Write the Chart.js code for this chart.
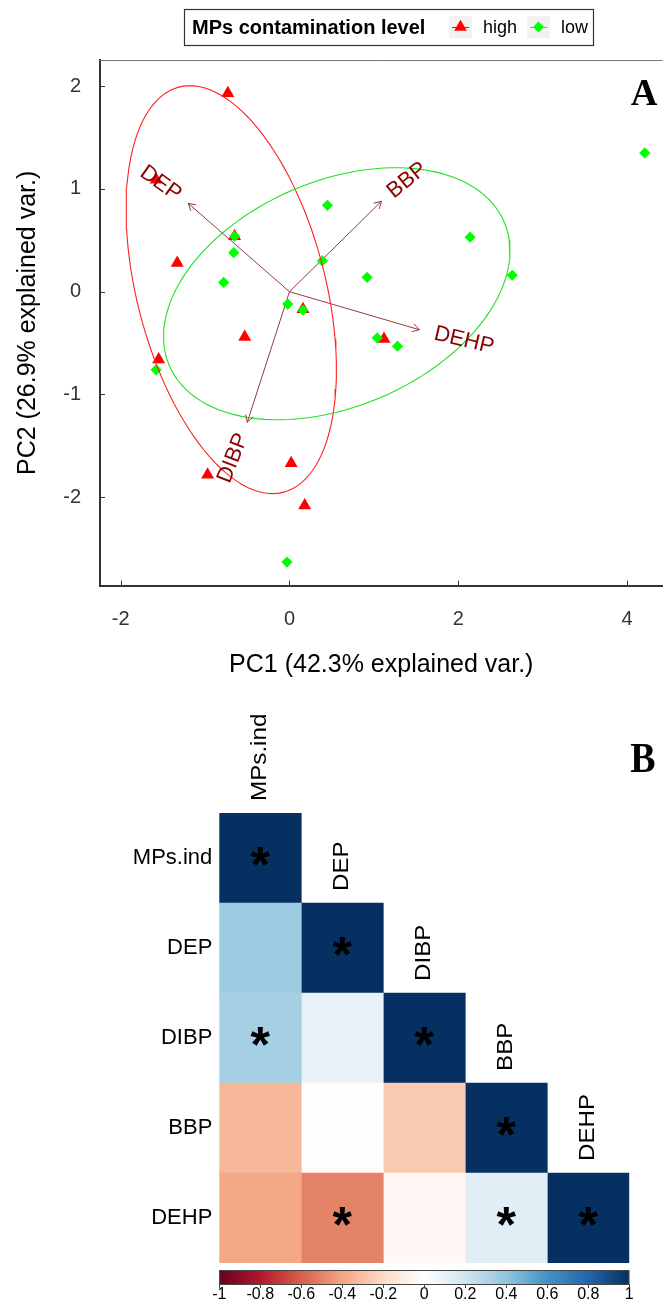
<!DOCTYPE html>
<html>
<head>
<meta charset="utf-8">
<script src="https://cdn.jsdelivr.net/npm/chart.js@4.4.1/dist/chart.umd.min.js"></script>
<style>
  html, body { margin: 0; padding: 0; background: #fff; }
  #wrap { position: relative; width: 670px; height: 1307px; }
  #pcaChart { position: absolute; left: 0; top: 0; }
  #corrChart { position: absolute; left: 0; top: 700px; }
</style>
</head>
<body>
<div id="wrap">
  <canvas id="pcaChart" width="670" height="700"></canvas>
  <canvas id="corrChart" width="670" height="607"></canvas>
</div>
<script>
// ---- panel A: PCA scores ----
const highX = [-0.73, -1.58, -0.65, -1.33, 0.16, -0.53, -1.55, 1.12, 0.02, -0.97, 0.18];
const highY = [1.93, 1.09, 0.54, 0.28, -0.17, -0.44, -0.66, -0.46, -1.67, -1.78, -2.08];
const lowX = [-0.65, -0.66, -0.78, 0.45, 0.39, 0.92, -0.02, 0.16, 4.21, 2.14, 2.64, -1.58, 1.04, 1.28, -0.03];
const lowY = [0.54, 0.38, 0.09, 0.84, 0.30, 0.14, -0.12, -0.18, 1.35, 0.53, 0.16, -0.76, -0.45, -0.53, -2.63];

// variable loadings (arrow tips)
const varNames = ['DEP', 'BBP', 'DEHP', 'DIBP'];
const loadX = [-1.20, 1.09, 1.54, -0.50];
const loadY = [0.86, 0.88, -0.37, -1.27];

// group ellipses: centre x, centre y, then two conjugate semi-axes (ux, uy, vx, vy)
const highEllipse = [-0.69, 0.02, 0.622, -1.970, -1.080, -0.236];
const lowEllipse = [0.56, -0.02, 1.989, 0.689, 0.507, -1.014];

const xTicks = [-2, 0, 2, 4];
const yTicks = [-2, -1, 0, 1, 2];

// ---- panel B: correlation matrix (lower triangle) ----
const corrVars = ['MPs.ind', 'DEP', 'DIBP', 'BBP', 'DEHP'];
const rowMPs = [1];
const rowDEP = [0.37, 1];
const rowDIBP = [0.34, 0.10, 1];
const rowBBP = [-0.33, -0.01, -0.26, 1];
const rowDEHP = [-0.39, -0.50, -0.04, 0.13, 1];
const corrRows = [rowMPs, rowDEP, rowDIBP, rowBBP, rowDEHP];
const starRows = [[1], [0, 1], [1, 0, 1], [0, 0, 0, 1], [0, 1, 0, 1, 1]];
const cbTicks = [-1, -0.8, -0.6, -0.4, -0.2, 0, 0.2, 0.4, 0.6, 0.8, 1];

const rdbu = ['#67001F', '#B2182B', '#D6604D', '#F4A582', '#FDDBC7', '#FFFFFF',
              '#D1E5F0', '#92C5DE', '#4393C3', '#2166AC', '#053061'];

const SANS = '"Liberation Sans", Arial, sans-serif';
const SERIF = '"Liberation Serif", "Times New Roman", serif';
const arrowColor = 'rgb(145,60,60)';

function toPts(xs, ys) {
    return xs.map((x, i) => ({ x: x, y: ys[i] }));
}

function ellipsePts(e) {
    const pts = [];
    for (let k = 0; k <= 120; k++) {
        const t = k / 120 * Math.PI * 2;
        pts.push({ x: e[0] + e[2] * Math.cos(t) + e[4] * Math.sin(t),
                   y: e[1] + e[3] * Math.cos(t) + e[5] * Math.sin(t) });
    }
    return pts;
}

function hexRgb(h) {
    return [parseInt(h.slice(1, 3), 16), parseInt(h.slice(3, 5), 16), parseInt(h.slice(5, 7), 16)];
}

function corrColor(v) {
    const pos = (v + 1) / 2 * (rdbu.length - 1);
    const i = Math.min(Math.floor(pos), rdbu.length - 2);
    const f = pos - i;
    const a = hexRgb(rdbu[i]), b = hexRgb(rdbu[i + 1]);
    const c = a.map((q, k) => Math.round(q + (b[k] - q) * f));
    return 'rgb(' + c.join(',') + ')';
}

function drawMarker(ctx, style, x, y, r, color) {
    ctx.fillStyle = color;
    ctx.beginPath();
    if (style === 'triangle') {
        ctx.moveTo(x, y - r);
        ctx.lineTo(x + 0.866 * r, y + r / 2);
        ctx.lineTo(x - 0.866 * r, y + r / 2);
    } else {
        ctx.moveTo(x, y - r);
        ctx.lineTo(x + r, y);
        ctx.lineTo(x, y + r);
        ctx.lineTo(x - r, y);
    }
    ctx.closePath();
    ctx.fill();
}

const pcaDecor = {
    id: 'pcaDecor',
    afterDatasetsDraw(chart) {
        const ctx = chart.ctx;
        const xs = chart.scales.x, ys = chart.scales.y;
        const ox = xs.getPixelForValue(0), oy = ys.getPixelForValue(0);
        ctx.save();
        // arrow heads
        ctx.strokeStyle = arrowColor;
        ctx.lineWidth = 1;
        varNames.forEach((n, i) => {
            const px = xs.getPixelForValue(loadX[i]), py = ys.getPixelForValue(loadY[i]);
            const a = Math.atan2(py - oy, px - ox);
            ctx.beginPath();
            ctx.moveTo(px - 8 * Math.cos(a - Math.PI / 6), py - 8 * Math.sin(a - Math.PI / 6));
            ctx.lineTo(px, py);
            ctx.lineTo(px - 8 * Math.cos(a + Math.PI / 6), py - 8 * Math.sin(a + Math.PI / 6));
            ctx.stroke();
        });
        // variable names, placed like ggbiplot does
        ctx.font = '22px ' + SANS;
        ctx.fillStyle = '#8B0000';
        ctx.textAlign = 'left';
        ctx.textBaseline = 'middle';
        varNames.forEach((n, i) => {
            const px = xs.getPixelForValue(loadX[i]), py = ys.getPixelForValue(loadY[i]);
            const ang = Math.atan(loadY[i] / loadX[i]);
            const hj = (1 - 1.5 * Math.sign(loadX[i])) / 2;
            const w = ctx.measureText(n).width;
            ctx.save();
            ctx.translate(px, py);
            ctx.rotate(-ang);
            ctx.fillText(n, -hj * w, 0);
            ctx.restore();
        });
        ctx.restore();
    },
    afterDraw(chart) {
        const ctx = chart.ctx;
        const area = chart.chartArea;
        const xs = chart.scales.x, ys = chart.scales.y;
        ctx.save();
        // top frame line
        ctx.strokeStyle = '#777';
        ctx.lineWidth = 1;
        ctx.beginPath();
        ctx.moveTo(area.left, area.top + 0.5);
        ctx.lineTo(area.right, area.top + 0.5);
        ctx.stroke();
        // inward ticks
        ctx.strokeStyle = '#333';
        xTicks.forEach(v => {
            const x = Math.round(xs.getPixelForValue(v)) + 0.5;
            ctx.beginPath(); ctx.moveTo(x, area.bottom); ctx.lineTo(x, area.bottom - 5); ctx.stroke();
        });
        yTicks.forEach(v => {
            const y = Math.round(ys.getPixelForValue(v)) + 0.5;
            ctx.beginPath(); ctx.moveTo(area.left, y); ctx.lineTo(area.left + 5, y); ctx.stroke();
        });
        // legend
        ctx.strokeStyle = '#333';
        ctx.lineWidth = 1.2;
        ctx.strokeRect(184.5, 9.5, 409, 36);
        ctx.fillStyle = '#000';
        ctx.textBaseline = 'middle';
        ctx.textAlign = 'left';
        ctx.font = 'bold 20px ' + SANS;
        ctx.fillText('MPs contamination level', 192, 28);
        const keys = [
            { x: 449, label: 'high', style: 'triangle', color: '#FF0000', r: 7.3 },
            { x: 527, label: 'low', style: 'rectRot', color: '#00FF00', r: 5.5 }
        ];
        keys.forEach(k => {
            ctx.fillStyle = '#F2F2F2';
            ctx.fillRect(k.x, 16, 23, 22);
            ctx.strokeStyle = k.color;
            ctx.lineWidth = 1;
            ctx.beginPath(); ctx.moveTo(k.x + 3, 27.5); ctx.lineTo(k.x + 20, 27.5); ctx.stroke();
            drawMarker(ctx, k.style, k.x + 11.5, 27, k.r, k.color);
            ctx.fillStyle = '#000';
            ctx.font = '18px ' + SANS;
            ctx.fillText(k.label, k.x + 34, 28);
        });
        // panel letter
        ctx.font = 'bold 37px ' + SERIF;
        ctx.textAlign = 'center';
        ctx.textBaseline = 'alphabetic';
        ctx.fillText('A', 644, 105);
        ctx.restore();
    }
};

function drawPca() {
    const ctx = document.getElementById('pcaChart').getContext('2d');
    const arrowSets = varNames.map((n, i) => ({
        label: n,
        data: [{ x: 0, y: 0 }, { x: loadX[i], y: loadY[i] }],
        showLine: true,
        borderColor: arrowColor,
        borderWidth: 1,
        pointRadius: 0,
        order: 10
    }));

    new Chart(ctx, {
        type: 'scatter',
        data: {
            datasets: arrowSets.concat([
                {
                    label: 'high',
                    data: toPts(highX, highY),
                    pointStyle: 'triangle',
                    pointRadius: 7.5,
                    backgroundColor: '#FF0000',
                    borderWidth: 0,
                    order: 5
                },
                {
                    label: 'low',
                    data: toPts(lowX, lowY),
                    pointStyle: 'rectRot',
                    pointRadius: 5.6,
                    backgroundColor: '#00FF00',
                    borderWidth: 0,
                    order: 4
                },
                {
                    label: 'high ellipse',
                    data: ellipsePts(highEllipse),
                    showLine: true,
                    borderColor: '#FF2020',
                    borderWidth: 1.1,
                    pointRadius: 0,
                    order: 2
                },
                {
                    label: 'low ellipse',
                    data: ellipsePts(lowEllipse),
                    showLine: true,
                    borderColor: '#20E020',
                    borderWidth: 1.1,
                    pointRadius: 0,
                    order: 1
                }
            ])
        },
        options: {
            responsive: false,
            animation: false,
            events: [],
            layout: { padding: { top: 60, right: 0, left: 0, bottom: 0 } },
            plugins: {
                legend: { display: false },
                tooltip: { enabled: false }
            },
            scales: {
                x: {
                    type: 'linear',
                    min: -2.245,
                    max: 4.42,
                    afterBuildTicks: s => { s.ticks = xTicks.map(v => ({ value: v })); },
                    afterFit: s => { s.height = 114.3; },
                    grid: { display: false, drawTicks: false },
                    border: { display: true, color: '#333', width: 2 },
                    ticks: { font: { family: SANS, size: 20 }, color: '#333', padding: 22 },
                    title: {
                        display: true,
                        text: 'PC1 (42.3% explained var.)',
                        font: { family: SANS, size: 25 },
                        color: '#000',
                        padding: { top: 0, bottom: 20 }
                    }
                },
                y: {
                    type: 'linear',
                    min: -2.86,
                    max: 2.254,
                    afterBuildTicks: s => { s.ticks = yTicks.map(v => ({ value: v })); },
                    afterFit: s => { s.width = 100; },
                    grid: { display: false, drawTicks: false },
                    border: { display: true, color: '#333', width: 2 },
                    ticks: { font: { family: SANS, size: 20 }, color: '#333', padding: 19 },
                    title: {
                        display: true,
                        text: 'PC2 (26.9% explained var.)',
                        font: { family: SANS, size: 25 },
                        color: '#000',
                        padding: { top: 13, bottom: 0 }
                    }
                }
            }
        },
        plugins: [pcaDecor]
    });
}

const corrDecor = {
    id: 'corrDecor',
    afterDraw(chart) {
        const ctx = chart.ctx;
        const area = chart.chartArea;
        const xs = chart.scales.x, ys = chart.scales.y, cb = chart.scales.cb;
        const cellH = (area.bottom - area.top) / corrVars.length;
        ctx.save();
        // column names above the diagonal
        ctx.fillStyle = '#000';
        ctx.font = '22px ' + SANS;
        ctx.textAlign = 'left';
        ctx.textBaseline = 'middle';
        corrVars.forEach((name, j) => {
            const cx = xs.getPixelForValue(j + 0.5);
            const top = ys.getPixelForValue(j) - cellH / 2;
            ctx.save();
            ctx.translate(cx, top - 12);
            ctx.rotate(-Math.PI / 2);
            ctx.scale(1.1, 1);
            ctx.fillText(name, 0, 0);
            ctx.restore();
        });
        // significance stars
        ctx.font = 'bold 50px ' + SANS;
        ctx.textAlign = 'center';
        ctx.textBaseline = 'alphabetic';
        starRows.forEach((row, i) => row.forEach((s, j) => {
            if (s) ctx.fillText('*', xs.getPixelForValue(j + 0.5), ys.getPixelForValue(i) + 24);
        }));
        // colour bar
        const y0 = area.bottom + 7, h = 14;
        const grad = ctx.createLinearGradient(cb.left, 0, cb.right, 0);
        rdbu.forEach((c, k) => grad.addColorStop(k / (rdbu.length - 1), c));
        ctx.fillStyle = grad;
        ctx.fillRect(cb.left, y0, cb.right - cb.left, h);
        ctx.strokeStyle = '#444';
        ctx.lineWidth = 1;
        ctx.strokeRect(cb.left + 0.5, y0 + 0.5, cb.right - cb.left - 1, h);
        cbTicks.forEach(v => {
            const x = Math.round(cb.getPixelForValue(v)) + 0.5;
            ctx.beginPath(); ctx.moveTo(x, y0 + h); ctx.lineTo(x, y0 + h + 4); ctx.stroke();
        });
        // panel letter
        ctx.fillStyle = '#000';
        ctx.font = 'bold 38px ' + SERIF;
        ctx.textAlign = 'center';
        ctx.save();
        ctx.translate(643, 72);
        ctx.scale(1, 1.1);
        ctx.fillText('B', 0, 0);
        ctx.restore();
        ctx.restore();
    }
};

function drawCorr() {
    const ctx = document.getElementById('corrChart').getContext('2d');
    const datasets = corrVars.map((name, j) => ({
        label: name,
        data: corrVars.map((r, i) => (i >= j ? [j, j + 1] : null)),
        backgroundColor: corrVars.map((r, i) => (i >= j ? corrColor(corrRows[i][j]) : 'rgba(0,0,0,0)')),
        borderWidth: 0,
        grouped: false,
        barPercentage: 1,
        categoryPercentage: 1
    }));

    new Chart(ctx, {
        type: 'bar',
        data: { labels: corrVars, datasets: datasets },
        options: {
            indexAxis: 'y',
            responsive: false,
            animation: false,
            events: [],
            layout: { padding: { top: 113, right: 40.7, left: 0, bottom: 0 } },
            plugins: {
                legend: { display: false },
                tooltip: { enabled: false }
            },
            scales: {
                x: { type: 'linear', min: 0, max: 5, display: false },
                y: {
                    type: 'category',
                    afterFit: s => { s.width = 219.3; },
                    grid: { display: false, drawTicks: false },
                    border: { display: false },
                    ticks: { font: { family: SANS, size: 22 }, color: '#000', padding: 7 }
                },
                cb: {
                    type: 'linear',
                    axis: 'x',
                    position: 'bottom',
                    min: -1,
                    max: 1,
                    afterBuildTicks: s => { s.ticks = cbTicks.map(v => ({ value: v })); },
                    afterFit: s => { s.height = 44; },
                    grid: { display: false, drawTicks: false },
                    border: { display: false },
                    ticks: {
                        font: { family: SANS, size: 16 },
                        color: '#000',
                        padding: 22,
                        maxRotation: 0,
                        autoSkip: false,
                        callback: v => String(v)
                    }
                }
            }
        },
        plugins: [corrDecor]
    });
}

document.addEventListener('DOMContentLoaded', () => {
    drawPca();
    drawCorr();
});
</script>
</body>
</html>
